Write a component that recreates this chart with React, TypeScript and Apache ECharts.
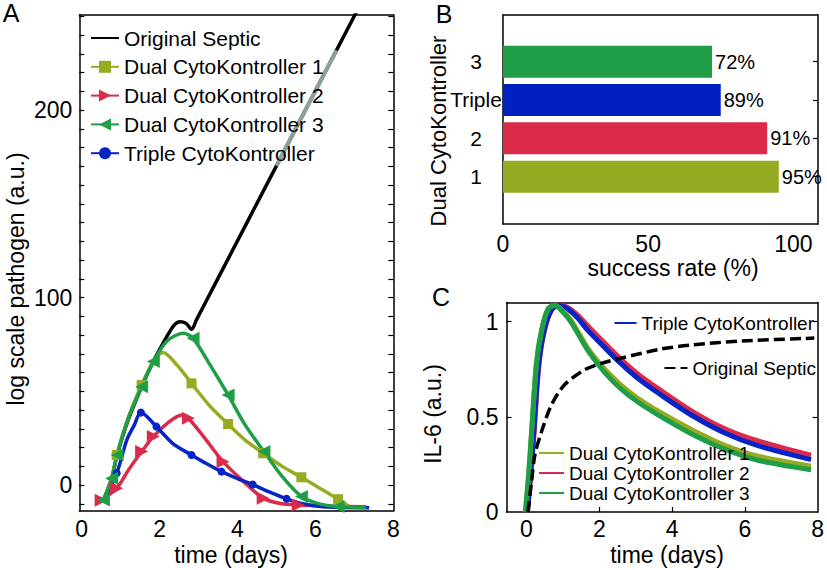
import React, { useEffect, useRef } from 'react';
import * as echarts from 'echarts';

const FONT = '"Liberation Sans", Arial, Helvetica, sans-serif';

// ---------- Panel A: log scale pathogen vs time (day, value, marker flag) ----------
const septicA = [
  [0.56, -8], [0.77, 3.6], [0.91, 16], [1.2, 35], [1.54, 52.5], [1.84, 66], [2.18, 79],
  [2.38, 85.5], [2.52, 87.2], [2.68, 86.3], [2.82, 83.1], [2.95, 88.3], [3.5, 110.3], [5.0, 170.3],
  [6.54, 231.9], [7.1, 254.3],
];
const septicOverlayA = [[5.0, 170.3], [6.54, 231.9]];
const dual1A = [
  [0.56, -8, 0], [0.77, 3.5, 0], [0.9, 16.1, 1], [1.2, 36, 0], [1.54, 53.4, 1], [1.84, 65.9, 0],
  [2.09, 70.7, 0], [2.45, 64, 0], [2.82, 54.3, 1], [3.3, 42, 0], [3.76, 32.6, 1], [4.2, 24, 0],
  [4.66, 17, 1], [5.15, 10, 0], [5.64, 4.2, 1], [6.1, -1.5, 0], [6.58, -7.5, 1], [6.88, -11.5, 0],
];
const dual2A = [
  [0.5, -8, 1], [0.9, -1.7, 1], [1.2, 8, 0], [1.54, 17.9, 1], [1.84, 25.9, 1], [2.2, 33, 0],
  [2.57, 37.4, 0], [2.74, 35.7, 1], [3.2, 24, 0], [3.63, 12.5, 1], [4.15, 2, 0], [4.66, -7, 1],
  [5.1, -9.8, 0], [5.56, -10.6, 1], [6.4, -11.2, 0], [7.31, -11.5, 0],
];
const dual3A = [
  [0.56, -7.9, 1], [0.77, 3.6, 1], [0.91, 16.1, 1], [1.2, 36, 0], [1.54, 52.5, 1], [1.84, 65.9, 1],
  [2.2, 77, 0], [2.61, 81, 0], [2.86, 78.3, 1], [3.3, 64, 0], [3.76, 48.1, 1], [4.2, 32, 0],
  [4.68, 17.9, 1], [5.15, 4.5, 0], [5.64, -6, 1], [6.1, -10, 0], [6.58, -11.4, 1], [7.3, -11.8, 0],
];
const tripleA = [
  [0.56, -8, 0], [0.9, 6.3, 1], [1.16, 24.1, 0], [1.35, 32, 0], [1.52, 38.7, 1], [1.92, 31.2, 1],
  [2.35, 22, 0], [2.82, 16.1, 1], [3.2, 11.5, 0], [3.59, 7.2, 1], [4.0, 3.5, 0], [4.39, 0.3, 1],
  [4.8, -3.5, 0], [5.26, -7.3, 1], [5.7, -10, 0], [6.2, -11.5, 0], [7.38, -12, 0],
];
const legendA = [
  'Original Septic', 'Dual CytoKontroller 1', 'Dual CytoKontroller 2',
  'Dual CytoKontroller 3', 'Triple CytoKontroller',
];
const xLabelsA = [0, 2, 4, 6, 8];
const yLabelsA = [0, 100, 200];
const yTicksA = [
  -10, 0, 10, 20, 30, 40, 50, 60, 70, 80, 90, 100, 110, 120, 130, 140, 150, 160, 170, 180,
  190, 200, 210, 220, 230, 240, 250,
];

// ---------- Panel B: success rate ----------
const barCategories = ['1', '2', 'Triple', '3'];
const barValues = [95, 91, 75, 72];
const barLabels = ['95%', '91%', '89%', '72%'];
const xLabelsB = [0, 50, 100];

// ---------- Panel C: IL-6 vs time ----------
const dual1C = [
  [-0.03, 0], [0.06, 0.2], [0.14, 0.42], [0.27, 0.775], [0.41, 0.95], [0.59, 1.065], [0.77, 1.085],
  [1.0, 1.055], [1.23, 1.005], [1.68, 0.862], [2.14, 0.752], [2.59, 0.668], [3.04, 0.6],
  [3.66, 0.525], [4.54, 0.432], [5.45, 0.35], [6.36, 0.293], [7.82, 0.241],
];
const dual2C = [
  [0.03, 0], [0.12, 0.2], [0.21, 0.42], [0.34, 0.77], [0.49, 0.95], [0.69, 1.06], [0.9, 1.088],
  [1.12, 1.075], [1.4, 1.035], [1.68, 0.978], [2.14, 0.888], [2.59, 0.803], [3.04, 0.728],
  [3.64, 0.645], [4.54, 0.53], [5.45, 0.437], [6.36, 0.373], [7.82, 0.298],
];
const dual3C = [
  [-0.03, 0], [0.06, 0.2], [0.14, 0.42], [0.27, 0.775], [0.41, 0.95], [0.59, 1.065], [0.77, 1.085],
  [1.0, 1.05], [1.23, 0.995], [1.68, 0.85], [2.14, 0.735], [2.59, 0.648], [3.04, 0.58],
  [3.66, 0.505], [4.54, 0.41], [5.45, 0.33], [6.36, 0.272], [7.82, 0.222],
];
const tripleC = [
  [0.02, 0], [0.11, 0.2], [0.2, 0.42], [0.33, 0.77], [0.48, 0.95], [0.68, 1.06], [0.88, 1.085],
  [1.1, 1.07], [1.4, 1.02], [1.68, 0.955], [2.14, 0.865], [2.59, 0.78], [3.04, 0.705],
  [3.64, 0.622], [4.54, 0.508], [5.45, 0.415], [6.36, 0.348], [7.82, 0.275],
];
const septicC = [
  [0.04, 0], [0.1, 0.1], [0.14, 0.16], [0.23, 0.3], [0.41, 0.42], [0.68, 0.56], [1.04, 0.667],
  [1.59, 0.746], [2.05, 0.78], [2.59, 0.807], [3.68, 0.855], [4.54, 0.877], [5.91, 0.898],
  [7.91, 0.913],
];
const xLabelsC = [0, 2, 4, 6, 8];
const xTicksC = [2, 4, 6];
const yLabelsC = [0, 0.5, 1];
const yTicksC = [0.5, 1];

// ---------- styles ----------
const BLACK = '#000000';
const OLIVE = '#97ab22';
const RED = '#dc2a4a';
const GREEN = '#1f9e45';
const BLUE = '#0524c8';
const OVERLAY = '#8aa29c';
const TRI_RIGHT = 'path://M0,0L10,5L0,10Z';
const TRI_LEFT = 'path://M10,0L0,5L10,10Z';

const axisLine = { show: true, onZero: false, lineStyle: { color: BLACK, width: 1.5 } };
const tickStyle = { color: BLACK, width: 1.2 };
const labelStyle = (size: number, margin: number) => ({
  fontSize: size, fontFamily: FONT, color: BLACK, margin,
});
const text = (x: number, y: number, t: string, size: number, rot = 0) => ({
  type: 'text', x, y, rotation: rot, silent: true,
  style: {
    text: t, fontSize: size, fontFamily: FONT, fill: BLACK,
    textAlign: 'center', textVerticalAlign: 'middle', align: 'center', verticalAlign: 'middle',
  },
});
const lineOnly = (name: string) => ({ name, itemStyle: { opacity: 0 } });

const markedSeries = (name: string, pts: number[][], color: string, symbol: string, size: number) => ({
  name, type: 'line', smooth: 0.3, symbol, symbolSize: size,
  showSymbol: true, showAllSymbol: true,
  data: pts.map((p) => ({ value: [p[0], p[1]], symbol: p[2] ? symbol : 'none' })),
  lineStyle: { color, width: 3.5 }, itemStyle: { color },
});

const optionA: any = {
  animation: false,
  grid: { left: 79.3, top: 15, width: 314, height: 496 },
  xAxis: [
    {
      type: 'value', min: -0.06, max: 8, position: 'bottom', axisLine,
      axisTick: { show: false }, splitLine: { show: false },
      axisLabel: { ...labelStyle(23, 6), customValues: xLabelsA },
    },
    {
      type: 'value', min: -0.06, max: 8, position: 'top', axisLine,
      axisTick: { show: false }, splitLine: { show: false }, axisLabel: { show: false },
    },
  ],
  yAxis: [
    {
      type: 'value', min: -13.8, max: 250.8, position: 'left', axisLine,
      axisTick: { show: true, inside: true, length: 5, lineStyle: tickStyle, customValues: yTicksA },
      splitLine: { show: false },
      axisLabel: { ...labelStyle(23, 7), customValues: yLabelsA },
    },
    {
      type: 'value', min: -13.8, max: 250.8, position: 'right', axisLine,
      axisTick: { show: true, inside: true, length: 5, lineStyle: tickStyle, customValues: yTicksA },
      splitLine: { show: false }, axisLabel: { show: false },
    },
  ],
  legend: {
    data: [lineOnly(legendA[0]), ...legendA.slice(1)],
    orient: 'vertical', left: 90, top: 27, itemWidth: 28, itemHeight: 15,
    itemGap: 6.8, padding: 0, selectedMode: false,
    textStyle: { fontSize: 21, fontFamily: FONT, color: BLACK, lineHeight: 22 },
  },
  series: [
    {
      name: 'Original Septic', type: 'line', smooth: 0.3, symbol: 'none',
      data: septicA, lineStyle: { color: BLACK, width: 3.5 }, itemStyle: { color: BLACK },
    },
    {
      name: 'overlay', type: 'line', symbol: 'none', data: septicOverlayA,
      lineStyle: { color: OVERLAY, width: 4 }, itemStyle: { color: OVERLAY },
    },
    markedSeries('Dual CytoKontroller 2', dual2A, RED, TRI_RIGHT, 13),
    markedSeries('Triple CytoKontroller', tripleA, BLUE, 'circle', 8),
    markedSeries('Dual CytoKontroller 1', dual1A, OLIVE, 'rect', 10),
    markedSeries('Dual CytoKontroller 3', dual3A, GREEN, TRI_LEFT, 13),
  ],
  graphic: [
    text(11, 13, 'A', 25),
    text(16, 279, 'log scale pathogen (a.u.)', 23, Math.PI / 2),
    text(231, 555, 'time (days)', 23),
  ],
};

const barColors = [OLIVE, RED, '#0120c0', GREEN];

const optionB: any = {
  animation: false,
  grid: [
    { left: 503, top: 15, width: 315, height: 209 },
    { left: 503, top: 42.5, width: 315, height: 153.3 },
  ],
  xAxis: [
    {
      gridIndex: 0, type: 'value', min: 0, max: 108.5, position: 'bottom', axisLine,
      axisTick: { show: false }, splitLine: { show: false },
      axisLabel: { ...labelStyle(23, 8), customValues: xLabelsB },
    },
    {
      gridIndex: 0, type: 'value', min: 0, max: 108.5, position: 'top', axisLine,
      axisTick: { show: false }, splitLine: { show: false }, axisLabel: { show: false },
    },
    { gridIndex: 1, type: 'value', min: 0, max: 108.5, show: false },
  ],
  yAxis: [
    {
      gridIndex: 0, type: 'value', min: 0, max: 1, position: 'left', axisLine,
      axisTick: { show: false }, splitLine: { show: false }, axisLabel: { show: false },
    },
    {
      gridIndex: 0, type: 'value', min: 0, max: 1, position: 'right', axisLine,
      axisTick: { show: false }, splitLine: { show: false }, axisLabel: { show: false },
    },
    {
      gridIndex: 1, type: 'category', data: barCategories, position: 'left',
      axisLine: { show: false },
      axisTick: { show: true, inside: true, alignWithLabel: true, length: 5, lineStyle: tickStyle },
      axisLabel: { ...labelStyle(21, 27), align: 'center' },
    },
    {
      gridIndex: 1, type: 'category', data: barCategories, position: 'right',
      axisLine: { show: false },
      axisTick: { show: true, inside: true, alignWithLabel: true, length: 5, lineStyle: tickStyle },
      axisLabel: { show: false },
    },
  ],
  series: [
    {
      type: 'bar', xAxisIndex: 2, yAxisIndex: 2, barWidth: 32,
      data: barValues.map((v, i) => ({ value: v, itemStyle: { color: barColors[i] } })),
      label: {
        show: true, position: 'right', distance: 3, fontSize: 20, fontFamily: FONT, color: BLACK,
        formatter: (p: any) => barLabels[p.dataIndex],
      },
    },
  ],
  graphic: [
    text(444, 14, 'B', 25),
    text(438, 131, 'Dual CytoKontroller', 22, Math.PI / 2),
    text(673, 268, 'success rate (%)', 23),
  ],
};

const cLine = (name: string, pts: number[][], color: string) => ({
  name, type: 'line', smooth: 0.3, symbol: 'none', data: pts,
  lineStyle: { color, width: 5 }, itemStyle: { color },
});

const legendTextC = { fontSize: 19, fontFamily: FONT, color: BLACK, lineHeight: 20 };

const optionC: any = {
  animation: false,
  grid: { left: 506.5, top: 302.5, width: 314, height: 209.5 },
  xAxis: [
    {
      type: 'value', min: -0.55, max: 8, position: 'bottom', axisLine,
      axisTick: { show: true, inside: true, length: 5, lineStyle: tickStyle, customValues: xTicksC },
      splitLine: { show: false },
      axisLabel: { ...labelStyle(23, 5), customValues: xLabelsC },
    },
    {
      type: 'value', min: -0.55, max: 8, position: 'top', axisLine,
      axisTick: { show: false }, splitLine: { show: false }, axisLabel: { show: false },
    },
  ],
  yAxis: [
    {
      type: 'value', min: 0, max: 1.1, position: 'left', axisLine,
      axisTick: { show: true, inside: true, length: 5, lineStyle: tickStyle, customValues: yTicksC },
      splitLine: { show: false },
      axisLabel: { ...labelStyle(23, 8), customValues: yLabelsC },
    },
    {
      type: 'value', min: 0, max: 1.1, position: 'right', axisLine,
      axisTick: { show: true, inside: true, length: 5, lineStyle: tickStyle, customValues: yTicksC },
      splitLine: { show: false }, axisLabel: { show: false },
    },
  ],
  legend: [
    {
      data: [lineOnly('Triple CytoKontroller')], right: 13, top: 313, itemWidth: 22, itemHeight: 10,
      padding: 0, selectedMode: false, textStyle: legendTextC,
    },
    {
      data: [lineOnly('Original Septic')], right: 11, top: 358, itemWidth: 23, itemHeight: 10,
      padding: 0, selectedMode: false, textStyle: legendTextC,
    },
    {
      data: [
        lineOnly('Dual CytoKontroller 1'), lineOnly('Dual CytoKontroller 2'),
        lineOnly('Dual CytoKontroller 3'),
      ],
      orient: 'vertical', left: 538, top: 443, itemWidth: 25, itemHeight: 10, itemGap: 0,
      padding: 0, selectedMode: false, textStyle: legendTextC,
    },
  ],
  series: [
    cLine('Dual CytoKontroller 2', dual2C, RED),
    cLine('Triple CytoKontroller', tripleC, BLUE),
    cLine('Dual CytoKontroller 1', dual1C, OLIVE),
    cLine('Dual CytoKontroller 3', dual3C, GREEN),
    {
      name: 'Original Septic', type: 'line', smooth: 0.3, symbol: 'none',
      data: septicC, lineStyle: { color: BLACK, width: 3.5, type: [11, 5] },
      itemStyle: { color: BLACK },
    },
  ],
  graphic: [
    text(441, 297, 'C', 25),
    text(433, 414, 'IL-6 (a.u.)', 23, Math.PI / 2),
    text(667, 555, 'time (days)', 23),
  ],
};

export default function App() {
  const refA = useRef<HTMLDivElement>(null);
  const refB = useRef<HTMLDivElement>(null);
  const refC = useRef<HTMLDivElement>(null);

  useEffect(() => {
    const pairs: [HTMLDivElement | null, any][] = [
      [refA.current, optionA],
      [refB.current, optionB],
      [refC.current, optionC],
    ];
    const charts = pairs.map(([el, opt]) => {
      const c = echarts.init(el as HTMLDivElement, null, { renderer: 'svg' });
      c.setOption(opt);
      return c;
    });
    return () => charts.forEach((c) => c.dispose());
  }, []);

  const layer: React.CSSProperties = { position: 'absolute', left: 0, top: 0, width: 827, height: 570 };
  return (
    <div style={{ position: 'fixed', left: 0, top: 0, width: 827, height: 570, background: '#fff' }}>
      <div ref={refA} style={layer} />
      <div ref={refB} style={layer} />
      <div ref={refC} style={layer} />
    </div>
  );
}
